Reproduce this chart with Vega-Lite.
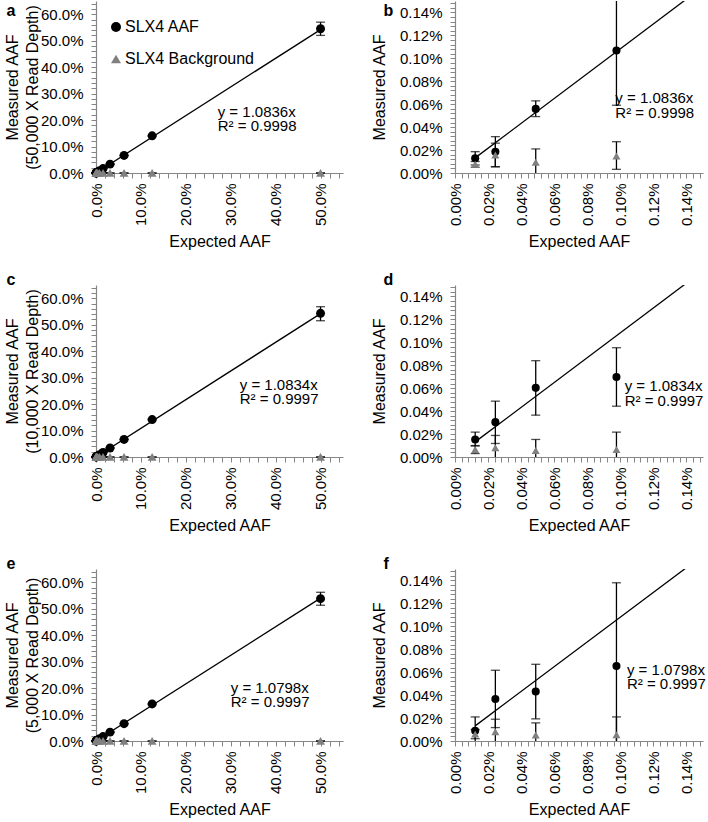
{
"$schema": "https://vega.github.io/schema/vega-lite/v6.json",
"padding": {"left": 4, "top": 1, "right": 0, "bottom": 0},
"background": "white",
"config": {
  "font": "Liberation Sans",
  "view": {"stroke": null},
  "axis": {"domainColor": "#868686", "tickColor": "#868686", "tickSize": 5, "labelPadding": 5, "labelFontSize": 15, "titleFontSize": 16, "titleFontWeight": "normal", "labelColor": "black", "titleColor": "black", "grid": false, "labelOverlap": false, "labelBound": false, "labelFlush": false, "domainWidth": 1.2, "tickWidth": 1},
  "axisX": {"labelAngle": 270, "titlePadding": 8},
  "axisY": {"labelPadding": 8, "titleLineHeight": 20},
  "title": {"fontSize": 16, "fontWeight": "bold", "anchor": "start", "frame": "bounds", "color": "black"}
},
"datasets": {
  "d50k": [
    {"series": "SLX4 AAF", "expected": 0.5, "measured": 0.545, "lo": 0.52, "hi": 0.57},
    {"series": "SLX4 AAF", "expected": 0.125, "measured": 0.1405, "lo": 0.1385, "hi": 0.1425},
    {"series": "SLX4 AAF", "expected": 0.0625, "measured": 0.0665, "lo": 0.0655, "hi": 0.0675},
    {"series": "SLX4 AAF", "expected": 0.03125, "measured": 0.0335, "lo": 0.0328, "hi": 0.0342},
    {"series": "SLX4 AAF", "expected": 0.015625, "measured": 0.0168, "lo": 0.0163, "hi": 0.0173},
    {"series": "SLX4 AAF", "expected": 0.0078125, "measured": 0.0086, "lo": 0.0083, "hi": 0.0089},
    {"series": "SLX4 AAF", "expected": 0.00390625, "measured": 0.0042, "lo": 0.004, "hi": 0.0044},
    {"series": "SLX4 AAF", "expected": 0.001953125, "measured": 0.0021, "lo": 0.0019, "hi": 0.0023},
    {"series": "SLX4 AAF", "expected": 0.0009765625, "measured": 0.001068, "lo": 0.000591, "hi": 0.001545},
    {"series": "SLX4 AAF", "expected": 0.00048828125, "measured": 0.000559, "lo": 0.000492, "hi": 0.000629},
    {"series": "SLX4 AAF", "expected": 0.000244140625, "measured": 0.000186, "lo": 0.000055, "hi": 0.000317},
    {"series": "SLX4 AAF", "expected": 0.0001220703125, "measured": 0.000128, "lo": 0.00007, "hi": 0.000186},
    {"series": "SLX4 Background", "expected": 0.5, "measured": 0.0001, "lo": 0.00005, "hi": 0.00015},
    {"series": "SLX4 Background", "expected": 0.125, "measured": 0.0001, "lo": 0.00005, "hi": 0.00015},
    {"series": "SLX4 Background", "expected": 0.0625, "measured": 0.0001, "lo": 0.00005, "hi": 0.00015},
    {"series": "SLX4 Background", "expected": 0.03125, "measured": 0.0001, "lo": 0.00005, "hi": 0.00015},
    {"series": "SLX4 Background", "expected": 0.015625, "measured": 0.0001, "lo": 0.00005, "hi": 0.00015},
    {"series": "SLX4 Background", "expected": 0.0078125, "measured": 0.0001, "lo": 0.00005, "hi": 0.00015},
    {"series": "SLX4 Background", "expected": 0.00390625, "measured": 0.0001, "lo": 0.00005, "hi": 0.00015},
    {"series": "SLX4 Background", "expected": 0.001953125, "measured": 0.0001, "lo": 0.00005, "hi": 0.00015},
    {"series": "SLX4 Background", "expected": 0.0009765625, "measured": 0.000148, "lo": 0.000032, "hi": 0.000273},
    {"series": "SLX4 Background", "expected": 0.00048828125, "measured": 0.000093, "lo": -0.00003, "hi": 0.00021},
    {"series": "SLX4 Background", "expected": 0.000244140625, "measured": 0.000157, "lo": 0.000054, "hi": 0.00026},
    {"series": "SLX4 Background", "expected": 0.0001220703125, "measured": 0.000076, "lo": 0.00005, "hi": 0.0001}
  ],
  "d10k": [
    {"series": "SLX4 AAF", "expected": 0.5, "measured": 0.543, "lo": 0.515, "hi": 0.568},
    {"series": "SLX4 AAF", "expected": 0.125, "measured": 0.1415, "lo": 0.1395, "hi": 0.1435},
    {"series": "SLX4 AAF", "expected": 0.0625, "measured": 0.0665, "lo": 0.0655, "hi": 0.0675},
    {"series": "SLX4 AAF", "expected": 0.03125, "measured": 0.034, "lo": 0.0333, "hi": 0.0347},
    {"series": "SLX4 AAF", "expected": 0.015625, "measured": 0.017, "lo": 0.0165, "hi": 0.0175},
    {"series": "SLX4 AAF", "expected": 0.0078125, "measured": 0.0085, "lo": 0.0082, "hi": 0.0088},
    {"series": "SLX4 AAF", "expected": 0.00390625, "measured": 0.0042, "lo": 0.004, "hi": 0.0044},
    {"series": "SLX4 AAF", "expected": 0.001953125, "measured": 0.0021, "lo": 0.0019, "hi": 0.0023},
    {"series": "SLX4 AAF", "expected": 0.0009765625, "measured": 0.000698, "lo": 0.000443, "hi": 0.000953},
    {"series": "SLX4 AAF", "expected": 0.00048828125, "measured": 0.000603, "lo": 0.000365, "hi": 0.00084},
    {"series": "SLX4 AAF", "expected": 0.000244140625, "measured": 0.000304, "lo": 0.000118, "hi": 0.000487},
    {"series": "SLX4 AAF", "expected": 0.0001220703125, "measured": 0.000153, "lo": 0.000096, "hi": 0.000217},
    {"series": "SLX4 Background", "expected": 0.5, "measured": 0.0001, "lo": 0.00005, "hi": 0.00015},
    {"series": "SLX4 Background", "expected": 0.125, "measured": 0.0001, "lo": 0.00005, "hi": 0.00015},
    {"series": "SLX4 Background", "expected": 0.0625, "measured": 0.0001, "lo": 0.00005, "hi": 0.00015},
    {"series": "SLX4 Background", "expected": 0.03125, "measured": 0.0001, "lo": 0.00005, "hi": 0.00015},
    {"series": "SLX4 Background", "expected": 0.015625, "measured": 0.0001, "lo": 0.00005, "hi": 0.00015},
    {"series": "SLX4 Background", "expected": 0.0078125, "measured": 0.0001, "lo": 0.00005, "hi": 0.00015},
    {"series": "SLX4 Background", "expected": 0.00390625, "measured": 0.0001, "lo": 0.00005, "hi": 0.00015},
    {"series": "SLX4 Background", "expected": 0.001953125, "measured": 0.0001, "lo": 0.00005, "hi": 0.00015},
    {"series": "SLX4 Background", "expected": 0.0009765625, "measured": 0.000066, "lo": -0.00009, "hi": 0.000217},
    {"series": "SLX4 Background", "expected": 0.00048828125, "measured": 0.000057, "lo": -0.00004, "hi": 0.000153},
    {"series": "SLX4 Background", "expected": 0.000244140625, "measured": 0.000081, "lo": -0.00003, "hi": 0.000188},
    {"series": "SLX4 Background", "expected": 0.0001220703125, "measured": 0.000066, "lo": 0.00003, "hi": 0.0001}
  ],
  "d5k": [
    {"series": "SLX4 AAF", "expected": 0.5, "measured": 0.538, "lo": 0.513, "hi": 0.562},
    {"series": "SLX4 AAF", "expected": 0.125, "measured": 0.140, "lo": 0.138, "hi": 0.142},
    {"series": "SLX4 AAF", "expected": 0.0625, "measured": 0.0655, "lo": 0.0645, "hi": 0.0665},
    {"series": "SLX4 AAF", "expected": 0.03125, "measured": 0.0335, "lo": 0.0328, "hi": 0.0342},
    {"series": "SLX4 AAF", "expected": 0.015625, "measured": 0.0168, "lo": 0.0163, "hi": 0.0173},
    {"series": "SLX4 AAF", "expected": 0.0078125, "measured": 0.0085, "lo": 0.0082, "hi": 0.0088},
    {"series": "SLX4 AAF", "expected": 0.00390625, "measured": 0.0042, "lo": 0.004, "hi": 0.0044},
    {"series": "SLX4 AAF", "expected": 0.001953125, "measured": 0.0021, "lo": 0.0019, "hi": 0.0023},
    {"series": "SLX4 AAF", "expected": 0.0009765625, "measured": 0.000654, "lo": -0.00008, "hi": 0.00138},
    {"series": "SLX4 AAF", "expected": 0.00048828125, "measured": 0.000431, "lo": 0.000193, "hi": 0.000669},
    {"series": "SLX4 AAF", "expected": 0.000244140625, "measured": 0.000367, "lo": 0.000117, "hi": 0.000617},
    {"series": "SLX4 AAF", "expected": 0.0001220703125, "measured": 0.000089, "lo": -0.00003, "hi": 0.00021},
    {"series": "SLX4 Background", "expected": 0.5, "measured": 0.0001, "lo": 0.00005, "hi": 0.00015},
    {"series": "SLX4 Background", "expected": 0.125, "measured": 0.0001, "lo": 0.00005, "hi": 0.00015},
    {"series": "SLX4 Background", "expected": 0.0625, "measured": 0.0001, "lo": 0.00005, "hi": 0.00015},
    {"series": "SLX4 Background", "expected": 0.03125, "measured": 0.0001, "lo": 0.00005, "hi": 0.00015},
    {"series": "SLX4 Background", "expected": 0.015625, "measured": 0.0001, "lo": 0.00005, "hi": 0.00015},
    {"series": "SLX4 Background", "expected": 0.0078125, "measured": 0.0001, "lo": 0.00005, "hi": 0.00015},
    {"series": "SLX4 Background", "expected": 0.00390625, "measured": 0.0001, "lo": 0.00005, "hi": 0.00015},
    {"series": "SLX4 Background", "expected": 0.001953125, "measured": 0.0001, "lo": 0.00005, "hi": 0.00015},
    {"series": "SLX4 Background", "expected": 0.0009765625, "measured": 0.000054, "lo": -0.0001, "hi": 0.00021},
    {"series": "SLX4 Background", "expected": 0.00048828125, "measured": 0.000052, "lo": -0.00005, "hi": 0.000158},
    {"series": "SLX4 Background", "expected": 0.000244140625, "measured": 0.00008, "lo": -0.00003, "hi": 0.00019},
    {"series": "SLX4 Background", "expected": 0.0001220703125, "measured": 0.00006, "lo": 0.00002, "hi": 0.0001}
  ],
  "trend": [
    {"panel": "50k", "expected": 0.000122, "measured": 0.000132},
    {"panel": "50k", "expected": 0.5, "measured": 0.5418},
    {"panel": "10k", "expected": 0.000122, "measured": 0.000132},
    {"panel": "10k", "expected": 0.5, "measured": 0.5417},
    {"panel": "5k", "expected": 0.000122, "measured": 0.000132},
    {"panel": "5k", "expected": 0.5, "measured": 0.5399}
  ],
  "ann": [
    {"panel": "a", "expected": 0.271, "measured": 0.23, "text": "y = 1.0836x"},
    {"panel": "a", "expected": 0.271, "measured": 0.177, "text": "R² = 0.9998"},
    {"panel": "b", "expected": 0.00097, "measured": 0.000655, "text": "y = 1.0836x"},
    {"panel": "b", "expected": 0.00097, "measured": 0.000524, "text": "R² = 0.9998"},
    {"panel": "c", "expected": 0.32, "measured": 0.271, "text": "y = 1.0834x"},
    {"panel": "c", "expected": 0.32, "measured": 0.219, "text": "R² = 0.9997"},
    {"panel": "d", "expected": 0.001026, "measured": 0.000617, "text": "y = 1.0834x"},
    {"panel": "d", "expected": 0.001026, "measured": 0.000487, "text": "R² = 0.9997"},
    {"panel": "e", "expected": 0.30, "measured": 0.201, "text": "y = 1.0798x"},
    {"panel": "e", "expected": 0.30, "measured": 0.148, "text": "R² = 0.9997"},
    {"panel": "f", "expected": 0.00104, "measured": 0.00062, "text": "y = 1.0798x"},
    {"panel": "f", "expected": 0.00104, "measured": 0.000497, "text": "R² = 0.9997"}
  ]
},
"columns": 2,
"spacing": {"row": 22, "column": 24},
"resolve": {"scale": {"color": "independent", "shape": "independent"}},
"concat": [
  {
    "width": 247, "height": 172,
    "title": {"text": "a", "dx": 2, "offset": -18},
    "data": {"name": "d50k"},
    "encoding": {"x": {"field": "expected", "type": "quantitative", "scale": {"domain": [0, 0.55], "nice": false}, "title": "Expected AAF",
      "axis": {"values": [0,0.02,0.04,0.06,0.08,0.1,0.12,0.14,0.16,0.18,0.2,0.22,0.24,0.26,0.28,0.3,0.32,0.34,0.36,0.38,0.4,0.42,0.44,0.46,0.48,0.5,0.52,0.54], "labelExpr": "round(datum.value*50) % 5 == 0 ? format(datum.value, '.1%') : ''"}},
      "y": {"field": "measured", "type": "quantitative", "scale": {"domain": [0, 0.65], "nice": false}, "title": ["Measured AAF", "(50,000 X Read Depth)"], "axis": {"titlePadding": 0, "values": [0,0.02,0.04,0.06,0.08,0.1,0.12,0.14,0.16,0.18,0.2,0.22,0.24,0.26,0.28,0.3,0.32,0.34,0.36,0.38,0.4,0.42,0.44,0.46,0.48,0.5,0.52,0.54,0.56,0.58,0.6,0.62,0.64], "labelExpr": "round(datum.value*50) % 5 == 0 ? format(datum.value, '.1%') : ''", "labelFontSize": {"condition": {"test": "round(datum.value*50) % 5 != 0", "value": 0}, "value": 15}}}},
    "layer": [
      {"mark": {"type": "rule", "color": "black", "strokeWidth": 1.3}, "encoding": {"y": {"field": "lo", "type": "quantitative", "scale": {"domain": [0, 0.65], "nice": false}, "title": ["Measured AAF", "(50,000 X Read Depth)"], "axis": {"titlePadding": 0, "values": [0,0.02,0.04,0.06,0.08,0.1,0.12,0.14,0.16,0.18,0.2,0.22,0.24,0.26,0.28,0.3,0.32,0.34,0.36,0.38,0.4,0.42,0.44,0.46,0.48,0.5,0.52,0.54,0.56,0.58,0.6,0.62,0.64], "labelExpr": "round(datum.value*50) % 5 == 0 ? format(datum.value, '.1%') : ''", "labelFontSize": {"condition": {"test": "round(datum.value*50) % 5 != 0", "value": 0}, "value": 15}}}, "y2": {"field": "hi"}}},
      {"mark": {"type": "tick", "orient": "horizontal", "size": 9, "thickness": 1.3, "color": "black"}, "encoding": {"y": {"field": "lo", "type": "quantitative", "scale": {"domain": [0, 0.65], "nice": false}, "title": ["Measured AAF", "(50,000 X Read Depth)"], "axis": {"titlePadding": 0, "values": [0,0.02,0.04,0.06,0.08,0.1,0.12,0.14,0.16,0.18,0.2,0.22,0.24,0.26,0.28,0.3,0.32,0.34,0.36,0.38,0.4,0.42,0.44,0.46,0.48,0.5,0.52,0.54,0.56,0.58,0.6,0.62,0.64], "labelExpr": "round(datum.value*50) % 5 == 0 ? format(datum.value, '.1%') : ''", "labelFontSize": {"condition": {"test": "round(datum.value*50) % 5 != 0", "value": 0}, "value": 15}}}}},
      {"mark": {"type": "tick", "orient": "horizontal", "size": 9, "thickness": 1.3, "color": "black"}, "encoding": {"y": {"field": "hi", "type": "quantitative", "scale": {"domain": [0, 0.65], "nice": false}, "title": ["Measured AAF", "(50,000 X Read Depth)"], "axis": {"titlePadding": 0, "values": [0,0.02,0.04,0.06,0.08,0.1,0.12,0.14,0.16,0.18,0.2,0.22,0.24,0.26,0.28,0.3,0.32,0.34,0.36,0.38,0.4,0.42,0.44,0.46,0.48,0.5,0.52,0.54,0.56,0.58,0.6,0.62,0.64], "labelExpr": "round(datum.value*50) % 5 == 0 ? format(datum.value, '.1%') : ''", "labelFontSize": {"condition": {"test": "round(datum.value*50) % 5 != 0", "value": 0}, "value": 15}}}}},
      {"data": {"name": "trend"}, "transform": [{"filter": "datum.panel == '50k'"}], "mark": {"type": "line", "color": "black", "strokeWidth": 1.3, "clip": true}},
      {"mark": {"type": "point", "filled": true, "size": 80, "opacity": 1}, "encoding": {
        "color": {"field": "series", "type": "nominal", "scale": {"domain": ["SLX4 AAF", "SLX4 Background"], "range": ["#000000", "#808080"]}, "legend": {"orient": "none", "legendX": 12, "legendY": 18, "title": null, "labelFontSize": 16, "symbolSize": 100, "rowPadding": 16, "labelOffset": 1, "symbolStrokeWidth": 0}},
        "shape": {"field": "series", "type": "nominal", "scale": {"domain": ["SLX4 AAF", "SLX4 Background"], "range": ["circle", "triangle-up"]}, "legend": {"orient": "none", "legendX": 12, "legendY": 18, "title": null, "labelFontSize": 16, "symbolSize": 100, "rowPadding": 16, "labelOffset": 1, "symbolStrokeWidth": 0}}}},
      {"data": {"name": "ann"}, "transform": [{"filter": "datum.panel == 'a'"}], "mark": {"type": "text", "align": "left", "baseline": "middle", "fontSize": 15}, "encoding": {"text": {"field": "text"}}}
    ]
  },
  {
    "width": 248, "height": 172,
    "title": {"text": "b", "dx": 12, "offset": -18},
    "data": {"name": "d50k"},
    "encoding": {"x": {"field": "expected", "type": "quantitative", "scale": {"domain": [0, 0.0015], "nice": false}, "title": "Expected AAF",
      "axis": {"values": [0,0.00004,0.00008,0.00012,0.00016,0.0002,0.00024,0.00028,0.00032,0.00036,0.0004,0.00044,0.00048,0.00052,0.00056,0.0006,0.00064,0.00068,0.00072,0.00076,0.0008,0.00084,0.00088,0.00092,0.00096,0.001,0.00104,0.00108,0.00112,0.00116,0.0012,0.00124,0.00128,0.00132,0.00136,0.0014,0.00144,0.00148], "labelExpr": "round(datum.value*25000) % 5 == 0 ? format(datum.value, '.2%') : ''"}},
      "y": {"field": "measured", "type": "quantitative", "scale": {"domain": [0, 0.0015], "nice": false}, "title": "Measured AAF", "axis": {"titlePadding": 12, "values": [0,0.00004,0.00008,0.00012,0.00016,0.0002,0.00024,0.00028,0.00032,0.00036,0.0004,0.00044,0.00048,0.00052,0.00056,0.0006,0.00064,0.00068,0.00072,0.00076,0.0008,0.00084,0.00088,0.00092,0.00096,0.001,0.00104,0.00108,0.00112,0.00116,0.0012,0.00124,0.00128,0.00132,0.00136,0.0014,0.00144,0.00148], "labelExpr": "round(datum.value*25000) % 5 == 0 ? format(datum.value, '.2%') : ''", "labelFontSize": {"condition": {"test": "round(datum.value*25000) % 5 != 0", "value": 0}, "value": 15}}}},
    "layer": [
      {"mark": {"type": "rule", "color": "black", "strokeWidth": 1.3, "clip": true}, "encoding": {"y": {"field": "lo", "type": "quantitative", "scale": {"domain": [0, 0.0015], "nice": false}, "title": "Measured AAF", "axis": {"titlePadding": 12, "values": [0,0.00004,0.00008,0.00012,0.00016,0.0002,0.00024,0.00028,0.00032,0.00036,0.0004,0.00044,0.00048,0.00052,0.00056,0.0006,0.00064,0.00068,0.00072,0.00076,0.0008,0.00084,0.00088,0.00092,0.00096,0.001,0.00104,0.00108,0.00112,0.00116,0.0012,0.00124,0.00128,0.00132,0.00136,0.0014,0.00144,0.00148], "labelExpr": "round(datum.value*25000) % 5 == 0 ? format(datum.value, '.2%') : ''", "labelFontSize": {"condition": {"test": "round(datum.value*25000) % 5 != 0", "value": 0}, "value": 15}}}, "y2": {"field": "hi"}}},
      {"mark": {"type": "tick", "orient": "horizontal", "size": 9, "thickness": 1.3, "color": "black", "clip": true}, "encoding": {"y": {"field": "lo", "type": "quantitative", "scale": {"domain": [0, 0.0015], "nice": false}, "title": "Measured AAF", "axis": {"titlePadding": 12, "values": [0,0.00004,0.00008,0.00012,0.00016,0.0002,0.00024,0.00028,0.00032,0.00036,0.0004,0.00044,0.00048,0.00052,0.00056,0.0006,0.00064,0.00068,0.00072,0.00076,0.0008,0.00084,0.00088,0.00092,0.00096,0.001,0.00104,0.00108,0.00112,0.00116,0.0012,0.00124,0.00128,0.00132,0.00136,0.0014,0.00144,0.00148], "labelExpr": "round(datum.value*25000) % 5 == 0 ? format(datum.value, '.2%') : ''", "labelFontSize": {"condition": {"test": "round(datum.value*25000) % 5 != 0", "value": 0}, "value": 15}}}}},
      {"mark": {"type": "tick", "orient": "horizontal", "size": 9, "thickness": 1.3, "color": "black", "clip": true}, "encoding": {"y": {"field": "hi", "type": "quantitative", "scale": {"domain": [0, 0.0015], "nice": false}, "title": "Measured AAF", "axis": {"titlePadding": 12, "values": [0,0.00004,0.00008,0.00012,0.00016,0.0002,0.00024,0.00028,0.00032,0.00036,0.0004,0.00044,0.00048,0.00052,0.00056,0.0006,0.00064,0.00068,0.00072,0.00076,0.0008,0.00084,0.00088,0.00092,0.00096,0.001,0.00104,0.00108,0.00112,0.00116,0.0012,0.00124,0.00128,0.00132,0.00136,0.0014,0.00144,0.00148], "labelExpr": "round(datum.value*25000) % 5 == 0 ? format(datum.value, '.2%') : ''", "labelFontSize": {"condition": {"test": "round(datum.value*25000) % 5 != 0", "value": 0}, "value": 15}}}}},
      {"data": {"name": "trend"}, "transform": [{"filter": "datum.panel == '50k'"}], "mark": {"type": "line", "color": "black", "strokeWidth": 1.3, "clip": true}},
      {"mark": {"type": "point", "filled": true, "size": 65, "opacity": 1, "clip": true}, "encoding": {
        "color": {"field": "series", "type": "nominal", "scale": {"domain": ["SLX4 AAF", "SLX4 Background"], "range": ["#000000", "#808080"]}, "legend": null},
        "shape": {"field": "series", "type": "nominal", "scale": {"domain": ["SLX4 AAF", "SLX4 Background"], "range": ["circle", "triangle-up"]}, "legend": null}}},
      {"data": {"name": "ann"}, "transform": [{"filter": "datum.panel == 'b'"}], "mark": {"type": "text", "align": "left", "baseline": "middle", "fontSize": 15}, "encoding": {"text": {"field": "text"}}}
    ]
  },
  {
    "width": 247, "height": 172,
    "title": {"text": "c", "dx": 2, "offset": -3},
    "data": {"name": "d10k"},
    "encoding": {"x": {"field": "expected", "type": "quantitative", "scale": {"domain": [0, 0.55], "nice": false}, "title": "Expected AAF",
      "axis": {"values": [0,0.02,0.04,0.06,0.08,0.1,0.12,0.14,0.16,0.18,0.2,0.22,0.24,0.26,0.28,0.3,0.32,0.34,0.36,0.38,0.4,0.42,0.44,0.46,0.48,0.5,0.52,0.54], "labelExpr": "round(datum.value*50) % 5 == 0 ? format(datum.value, '.1%') : ''"}},
      "y": {"field": "measured", "type": "quantitative", "scale": {"domain": [0, 0.65], "nice": false}, "title": ["Measured AAF", "(10,000 X Read Depth)"], "axis": {"titlePadding": 0, "values": [0,0.02,0.04,0.06,0.08,0.1,0.12,0.14,0.16,0.18,0.2,0.22,0.24,0.26,0.28,0.3,0.32,0.34,0.36,0.38,0.4,0.42,0.44,0.46,0.48,0.5,0.52,0.54,0.56,0.58,0.6,0.62,0.64], "labelExpr": "round(datum.value*50) % 5 == 0 ? format(datum.value, '.1%') : ''", "labelFontSize": {"condition": {"test": "round(datum.value*50) % 5 != 0", "value": 0}, "value": 15}}}},
    "layer": [
      {"mark": {"type": "rule", "color": "black", "strokeWidth": 1.3}, "encoding": {"y": {"field": "lo", "type": "quantitative", "scale": {"domain": [0, 0.65], "nice": false}, "title": ["Measured AAF", "(10,000 X Read Depth)"], "axis": {"titlePadding": 0, "values": [0,0.02,0.04,0.06,0.08,0.1,0.12,0.14,0.16,0.18,0.2,0.22,0.24,0.26,0.28,0.3,0.32,0.34,0.36,0.38,0.4,0.42,0.44,0.46,0.48,0.5,0.52,0.54,0.56,0.58,0.6,0.62,0.64], "labelExpr": "round(datum.value*50) % 5 == 0 ? format(datum.value, '.1%') : ''", "labelFontSize": {"condition": {"test": "round(datum.value*50) % 5 != 0", "value": 0}, "value": 15}}}, "y2": {"field": "hi"}}},
      {"mark": {"type": "tick", "orient": "horizontal", "size": 9, "thickness": 1.3, "color": "black"}, "encoding": {"y": {"field": "lo", "type": "quantitative", "scale": {"domain": [0, 0.65], "nice": false}, "title": ["Measured AAF", "(10,000 X Read Depth)"], "axis": {"titlePadding": 0, "values": [0,0.02,0.04,0.06,0.08,0.1,0.12,0.14,0.16,0.18,0.2,0.22,0.24,0.26,0.28,0.3,0.32,0.34,0.36,0.38,0.4,0.42,0.44,0.46,0.48,0.5,0.52,0.54,0.56,0.58,0.6,0.62,0.64], "labelExpr": "round(datum.value*50) % 5 == 0 ? format(datum.value, '.1%') : ''", "labelFontSize": {"condition": {"test": "round(datum.value*50) % 5 != 0", "value": 0}, "value": 15}}}}},
      {"mark": {"type": "tick", "orient": "horizontal", "size": 9, "thickness": 1.3, "color": "black"}, "encoding": {"y": {"field": "hi", "type": "quantitative", "scale": {"domain": [0, 0.65], "nice": false}, "title": ["Measured AAF", "(10,000 X Read Depth)"], "axis": {"titlePadding": 0, "values": [0,0.02,0.04,0.06,0.08,0.1,0.12,0.14,0.16,0.18,0.2,0.22,0.24,0.26,0.28,0.3,0.32,0.34,0.36,0.38,0.4,0.42,0.44,0.46,0.48,0.5,0.52,0.54,0.56,0.58,0.6,0.62,0.64], "labelExpr": "round(datum.value*50) % 5 == 0 ? format(datum.value, '.1%') : ''", "labelFontSize": {"condition": {"test": "round(datum.value*50) % 5 != 0", "value": 0}, "value": 15}}}}},
      {"data": {"name": "trend"}, "transform": [{"filter": "datum.panel == '10k'"}], "mark": {"type": "line", "color": "black", "strokeWidth": 1.3, "clip": true}},
      {"mark": {"type": "point", "filled": true, "size": 80, "opacity": 1}, "encoding": {
        "color": {"field": "series", "type": "nominal", "scale": {"domain": ["SLX4 AAF", "SLX4 Background"], "range": ["#000000", "#808080"]}, "legend": null},
        "shape": {"field": "series", "type": "nominal", "scale": {"domain": ["SLX4 AAF", "SLX4 Background"], "range": ["circle", "triangle-up"]}, "legend": null}}},
      {"data": {"name": "ann"}, "transform": [{"filter": "datum.panel == 'c'"}], "mark": {"type": "text", "align": "left", "baseline": "middle", "fontSize": 15}, "encoding": {"text": {"field": "text"}}}
    ]
  },
  {
    "width": 248, "height": 172,
    "title": {"text": "d", "dx": 12, "offset": -3},
    "data": {"name": "d10k"},
    "encoding": {"x": {"field": "expected", "type": "quantitative", "scale": {"domain": [0, 0.0015], "nice": false}, "title": "Expected AAF",
      "axis": {"values": [0,0.00004,0.00008,0.00012,0.00016,0.0002,0.00024,0.00028,0.00032,0.00036,0.0004,0.00044,0.00048,0.00052,0.00056,0.0006,0.00064,0.00068,0.00072,0.00076,0.0008,0.00084,0.00088,0.00092,0.00096,0.001,0.00104,0.00108,0.00112,0.00116,0.0012,0.00124,0.00128,0.00132,0.00136,0.0014,0.00144,0.00148], "labelExpr": "round(datum.value*25000) % 5 == 0 ? format(datum.value, '.2%') : ''"}},
      "y": {"field": "measured", "type": "quantitative", "scale": {"domain": [0, 0.0015], "nice": false}, "title": "Measured AAF", "axis": {"titlePadding": 12, "values": [0,0.00004,0.00008,0.00012,0.00016,0.0002,0.00024,0.00028,0.00032,0.00036,0.0004,0.00044,0.00048,0.00052,0.00056,0.0006,0.00064,0.00068,0.00072,0.00076,0.0008,0.00084,0.00088,0.00092,0.00096,0.001,0.00104,0.00108,0.00112,0.00116,0.0012,0.00124,0.00128,0.00132,0.00136,0.0014,0.00144,0.00148], "labelExpr": "round(datum.value*25000) % 5 == 0 ? format(datum.value, '.2%') : ''", "labelFontSize": {"condition": {"test": "round(datum.value*25000) % 5 != 0", "value": 0}, "value": 15}}}},
    "layer": [
      {"mark": {"type": "rule", "color": "black", "strokeWidth": 1.3, "clip": true}, "encoding": {"y": {"field": "lo", "type": "quantitative", "scale": {"domain": [0, 0.0015], "nice": false}, "title": "Measured AAF", "axis": {"titlePadding": 12, "values": [0,0.00004,0.00008,0.00012,0.00016,0.0002,0.00024,0.00028,0.00032,0.00036,0.0004,0.00044,0.00048,0.00052,0.00056,0.0006,0.00064,0.00068,0.00072,0.00076,0.0008,0.00084,0.00088,0.00092,0.00096,0.001,0.00104,0.00108,0.00112,0.00116,0.0012,0.00124,0.00128,0.00132,0.00136,0.0014,0.00144,0.00148], "labelExpr": "round(datum.value*25000) % 5 == 0 ? format(datum.value, '.2%') : ''", "labelFontSize": {"condition": {"test": "round(datum.value*25000) % 5 != 0", "value": 0}, "value": 15}}}, "y2": {"field": "hi"}}},
      {"mark": {"type": "tick", "orient": "horizontal", "size": 9, "thickness": 1.3, "color": "black", "clip": true}, "encoding": {"y": {"field": "lo", "type": "quantitative", "scale": {"domain": [0, 0.0015], "nice": false}, "title": "Measured AAF", "axis": {"titlePadding": 12, "values": [0,0.00004,0.00008,0.00012,0.00016,0.0002,0.00024,0.00028,0.00032,0.00036,0.0004,0.00044,0.00048,0.00052,0.00056,0.0006,0.00064,0.00068,0.00072,0.00076,0.0008,0.00084,0.00088,0.00092,0.00096,0.001,0.00104,0.00108,0.00112,0.00116,0.0012,0.00124,0.00128,0.00132,0.00136,0.0014,0.00144,0.00148], "labelExpr": "round(datum.value*25000) % 5 == 0 ? format(datum.value, '.2%') : ''", "labelFontSize": {"condition": {"test": "round(datum.value*25000) % 5 != 0", "value": 0}, "value": 15}}}}},
      {"mark": {"type": "tick", "orient": "horizontal", "size": 9, "thickness": 1.3, "color": "black", "clip": true}, "encoding": {"y": {"field": "hi", "type": "quantitative", "scale": {"domain": [0, 0.0015], "nice": false}, "title": "Measured AAF", "axis": {"titlePadding": 12, "values": [0,0.00004,0.00008,0.00012,0.00016,0.0002,0.00024,0.00028,0.00032,0.00036,0.0004,0.00044,0.00048,0.00052,0.00056,0.0006,0.00064,0.00068,0.00072,0.00076,0.0008,0.00084,0.00088,0.00092,0.00096,0.001,0.00104,0.00108,0.00112,0.00116,0.0012,0.00124,0.00128,0.00132,0.00136,0.0014,0.00144,0.00148], "labelExpr": "round(datum.value*25000) % 5 == 0 ? format(datum.value, '.2%') : ''", "labelFontSize": {"condition": {"test": "round(datum.value*25000) % 5 != 0", "value": 0}, "value": 15}}}}},
      {"data": {"name": "trend"}, "transform": [{"filter": "datum.panel == '10k'"}], "mark": {"type": "line", "color": "black", "strokeWidth": 1.3, "clip": true}},
      {"mark": {"type": "point", "filled": true, "size": 65, "opacity": 1, "clip": true}, "encoding": {
        "color": {"field": "series", "type": "nominal", "scale": {"domain": ["SLX4 AAF", "SLX4 Background"], "range": ["#000000", "#808080"]}, "legend": null},
        "shape": {"field": "series", "type": "nominal", "scale": {"domain": ["SLX4 AAF", "SLX4 Background"], "range": ["circle", "triangle-up"]}, "legend": null}}},
      {"data": {"name": "ann"}, "transform": [{"filter": "datum.panel == 'd'"}], "mark": {"type": "text", "align": "left", "baseline": "middle", "fontSize": 15}, "encoding": {"text": {"field": "text"}}}
    ]
  },
  {
    "width": 247, "height": 172,
    "title": {"text": "e", "dx": 2, "offset": -3},
    "data": {"name": "d5k"},
    "encoding": {"x": {"field": "expected", "type": "quantitative", "scale": {"domain": [0, 0.55], "nice": false}, "title": "Expected AAF",
      "axis": {"values": [0,0.02,0.04,0.06,0.08,0.1,0.12,0.14,0.16,0.18,0.2,0.22,0.24,0.26,0.28,0.3,0.32,0.34,0.36,0.38,0.4,0.42,0.44,0.46,0.48,0.5,0.52,0.54], "labelExpr": "round(datum.value*50) % 5 == 0 ? format(datum.value, '.1%') : ''"}},
      "y": {"field": "measured", "type": "quantitative", "scale": {"domain": [0, 0.65], "nice": false}, "title": ["Measured AAF", "(5,000 X Read Depth)"], "axis": {"titlePadding": 0, "values": [0,0.02,0.04,0.06,0.08,0.1,0.12,0.14,0.16,0.18,0.2,0.22,0.24,0.26,0.28,0.3,0.32,0.34,0.36,0.38,0.4,0.42,0.44,0.46,0.48,0.5,0.52,0.54,0.56,0.58,0.6,0.62,0.64], "labelExpr": "round(datum.value*50) % 5 == 0 ? format(datum.value, '.1%') : ''", "labelFontSize": {"condition": {"test": "round(datum.value*50) % 5 != 0", "value": 0}, "value": 15}}}},
    "layer": [
      {"mark": {"type": "rule", "color": "black", "strokeWidth": 1.3}, "encoding": {"y": {"field": "lo", "type": "quantitative", "scale": {"domain": [0, 0.65], "nice": false}, "title": ["Measured AAF", "(5,000 X Read Depth)"], "axis": {"titlePadding": 0, "values": [0,0.02,0.04,0.06,0.08,0.1,0.12,0.14,0.16,0.18,0.2,0.22,0.24,0.26,0.28,0.3,0.32,0.34,0.36,0.38,0.4,0.42,0.44,0.46,0.48,0.5,0.52,0.54,0.56,0.58,0.6,0.62,0.64], "labelExpr": "round(datum.value*50) % 5 == 0 ? format(datum.value, '.1%') : ''", "labelFontSize": {"condition": {"test": "round(datum.value*50) % 5 != 0", "value": 0}, "value": 15}}}, "y2": {"field": "hi"}}},
      {"mark": {"type": "tick", "orient": "horizontal", "size": 9, "thickness": 1.3, "color": "black"}, "encoding": {"y": {"field": "lo", "type": "quantitative", "scale": {"domain": [0, 0.65], "nice": false}, "title": ["Measured AAF", "(5,000 X Read Depth)"], "axis": {"titlePadding": 0, "values": [0,0.02,0.04,0.06,0.08,0.1,0.12,0.14,0.16,0.18,0.2,0.22,0.24,0.26,0.28,0.3,0.32,0.34,0.36,0.38,0.4,0.42,0.44,0.46,0.48,0.5,0.52,0.54,0.56,0.58,0.6,0.62,0.64], "labelExpr": "round(datum.value*50) % 5 == 0 ? format(datum.value, '.1%') : ''", "labelFontSize": {"condition": {"test": "round(datum.value*50) % 5 != 0", "value": 0}, "value": 15}}}}},
      {"mark": {"type": "tick", "orient": "horizontal", "size": 9, "thickness": 1.3, "color": "black"}, "encoding": {"y": {"field": "hi", "type": "quantitative", "scale": {"domain": [0, 0.65], "nice": false}, "title": ["Measured AAF", "(5,000 X Read Depth)"], "axis": {"titlePadding": 0, "values": [0,0.02,0.04,0.06,0.08,0.1,0.12,0.14,0.16,0.18,0.2,0.22,0.24,0.26,0.28,0.3,0.32,0.34,0.36,0.38,0.4,0.42,0.44,0.46,0.48,0.5,0.52,0.54,0.56,0.58,0.6,0.62,0.64], "labelExpr": "round(datum.value*50) % 5 == 0 ? format(datum.value, '.1%') : ''", "labelFontSize": {"condition": {"test": "round(datum.value*50) % 5 != 0", "value": 0}, "value": 15}}}}},
      {"data": {"name": "trend"}, "transform": [{"filter": "datum.panel == '5k'"}], "mark": {"type": "line", "color": "black", "strokeWidth": 1.3, "clip": true}},
      {"mark": {"type": "point", "filled": true, "size": 80, "opacity": 1}, "encoding": {
        "color": {"field": "series", "type": "nominal", "scale": {"domain": ["SLX4 AAF", "SLX4 Background"], "range": ["#000000", "#808080"]}, "legend": null},
        "shape": {"field": "series", "type": "nominal", "scale": {"domain": ["SLX4 AAF", "SLX4 Background"], "range": ["circle", "triangle-up"]}, "legend": null}}},
      {"data": {"name": "ann"}, "transform": [{"filter": "datum.panel == 'e'"}], "mark": {"type": "text", "align": "left", "baseline": "middle", "fontSize": 15}, "encoding": {"text": {"field": "text"}}}
    ]
  },
  {
    "width": 248, "height": 172,
    "title": {"text": "f", "dx": 12, "offset": -3},
    "data": {"name": "d5k"},
    "encoding": {"x": {"field": "expected", "type": "quantitative", "scale": {"domain": [0, 0.0015], "nice": false}, "title": "Expected AAF",
      "axis": {"values": [0,0.00004,0.00008,0.00012,0.00016,0.0002,0.00024,0.00028,0.00032,0.00036,0.0004,0.00044,0.00048,0.00052,0.00056,0.0006,0.00064,0.00068,0.00072,0.00076,0.0008,0.00084,0.00088,0.00092,0.00096,0.001,0.00104,0.00108,0.00112,0.00116,0.0012,0.00124,0.00128,0.00132,0.00136,0.0014,0.00144,0.00148], "labelExpr": "round(datum.value*25000) % 5 == 0 ? format(datum.value, '.2%') : ''"}},
      "y": {"field": "measured", "type": "quantitative", "scale": {"domain": [0, 0.0015], "nice": false}, "title": "Measured AAF", "axis": {"titlePadding": 12, "values": [0,0.00004,0.00008,0.00012,0.00016,0.0002,0.00024,0.00028,0.00032,0.00036,0.0004,0.00044,0.00048,0.00052,0.00056,0.0006,0.00064,0.00068,0.00072,0.00076,0.0008,0.00084,0.00088,0.00092,0.00096,0.001,0.00104,0.00108,0.00112,0.00116,0.0012,0.00124,0.00128,0.00132,0.00136,0.0014,0.00144,0.00148], "labelExpr": "round(datum.value*25000) % 5 == 0 ? format(datum.value, '.2%') : ''", "labelFontSize": {"condition": {"test": "round(datum.value*25000) % 5 != 0", "value": 0}, "value": 15}}}},
    "layer": [
      {"mark": {"type": "rule", "color": "black", "strokeWidth": 1.3, "clip": true}, "encoding": {"y": {"field": "lo", "type": "quantitative", "scale": {"domain": [0, 0.0015], "nice": false}, "title": "Measured AAF", "axis": {"titlePadding": 12, "values": [0,0.00004,0.00008,0.00012,0.00016,0.0002,0.00024,0.00028,0.00032,0.00036,0.0004,0.00044,0.00048,0.00052,0.00056,0.0006,0.00064,0.00068,0.00072,0.00076,0.0008,0.00084,0.00088,0.00092,0.00096,0.001,0.00104,0.00108,0.00112,0.00116,0.0012,0.00124,0.00128,0.00132,0.00136,0.0014,0.00144,0.00148], "labelExpr": "round(datum.value*25000) % 5 == 0 ? format(datum.value, '.2%') : ''", "labelFontSize": {"condition": {"test": "round(datum.value*25000) % 5 != 0", "value": 0}, "value": 15}}}, "y2": {"field": "hi"}}},
      {"mark": {"type": "tick", "orient": "horizontal", "size": 9, "thickness": 1.3, "color": "black", "clip": true}, "encoding": {"y": {"field": "lo", "type": "quantitative", "scale": {"domain": [0, 0.0015], "nice": false}, "title": "Measured AAF", "axis": {"titlePadding": 12, "values": [0,0.00004,0.00008,0.00012,0.00016,0.0002,0.00024,0.00028,0.00032,0.00036,0.0004,0.00044,0.00048,0.00052,0.00056,0.0006,0.00064,0.00068,0.00072,0.00076,0.0008,0.00084,0.00088,0.00092,0.00096,0.001,0.00104,0.00108,0.00112,0.00116,0.0012,0.00124,0.00128,0.00132,0.00136,0.0014,0.00144,0.00148], "labelExpr": "round(datum.value*25000) % 5 == 0 ? format(datum.value, '.2%') : ''", "labelFontSize": {"condition": {"test": "round(datum.value*25000) % 5 != 0", "value": 0}, "value": 15}}}}},
      {"mark": {"type": "tick", "orient": "horizontal", "size": 9, "thickness": 1.3, "color": "black", "clip": true}, "encoding": {"y": {"field": "hi", "type": "quantitative", "scale": {"domain": [0, 0.0015], "nice": false}, "title": "Measured AAF", "axis": {"titlePadding": 12, "values": [0,0.00004,0.00008,0.00012,0.00016,0.0002,0.00024,0.00028,0.00032,0.00036,0.0004,0.00044,0.00048,0.00052,0.00056,0.0006,0.00064,0.00068,0.00072,0.00076,0.0008,0.00084,0.00088,0.00092,0.00096,0.001,0.00104,0.00108,0.00112,0.00116,0.0012,0.00124,0.00128,0.00132,0.00136,0.0014,0.00144,0.00148], "labelExpr": "round(datum.value*25000) % 5 == 0 ? format(datum.value, '.2%') : ''", "labelFontSize": {"condition": {"test": "round(datum.value*25000) % 5 != 0", "value": 0}, "value": 15}}}}},
      {"data": {"name": "trend"}, "transform": [{"filter": "datum.panel == '5k'"}], "mark": {"type": "line", "color": "black", "strokeWidth": 1.3, "clip": true}},
      {"mark": {"type": "point", "filled": true, "size": 65, "opacity": 1, "clip": true}, "encoding": {
        "color": {"field": "series", "type": "nominal", "scale": {"domain": ["SLX4 AAF", "SLX4 Background"], "range": ["#000000", "#808080"]}, "legend": null},
        "shape": {"field": "series", "type": "nominal", "scale": {"domain": ["SLX4 AAF", "SLX4 Background"], "range": ["circle", "triangle-up"]}, "legend": null}}},
      {"data": {"name": "ann"}, "transform": [{"filter": "datum.panel == 'f'"}], "mark": {"type": "text", "align": "left", "baseline": "middle", "fontSize": 15}, "encoding": {"text": {"field": "text"}}}
    ]
  }
]
}
